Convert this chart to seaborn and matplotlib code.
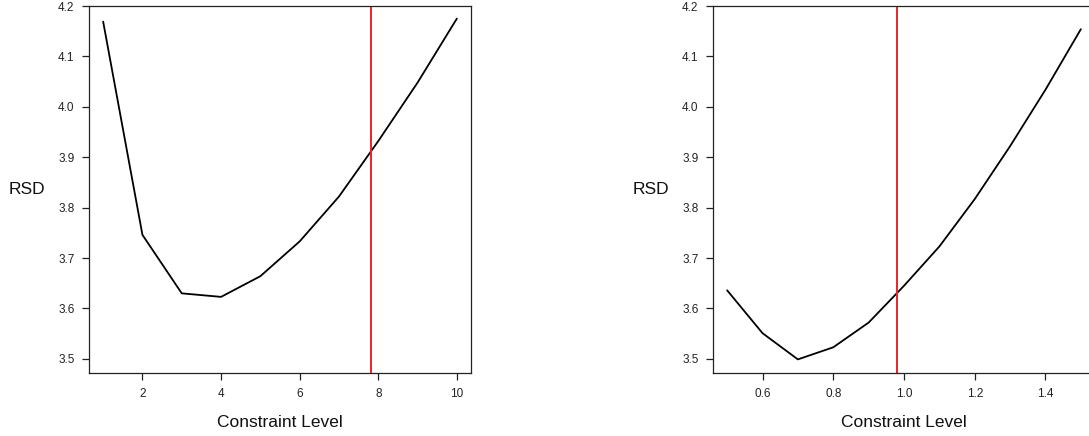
import numpy as np
import pandas as pd
import matplotlib
matplotlib.use("Agg")
import matplotlib.pyplot as plt
import seaborn as sns

# Data
left_x = [1, 2, 3, 4, 5, 6, 7, 8, 9, 10]
left_rsd = [4.169, 3.746, 3.630, 3.623, 3.664, 3.733, 3.822, 3.932, 4.048, 4.175]
left_vline = 7.82

right_x = [0.5, 0.6, 0.7, 0.8, 0.9, 1.0, 1.1, 1.2, 1.3, 1.4, 1.5]
right_rsd = [3.636, 3.551, 3.499, 3.523, 3.572, 3.645, 3.723, 3.817, 3.922, 4.034, 4.154]
right_vline = 0.981

x_label = "Constraint Level"
y_label = "RSD"
left_xticks = [2, 4, 6, 8, 10]
right_xticks = [0.6, 0.8, 1.0, 1.2, 1.4]
yticks = [3.5, 3.6, 3.7, 3.8, 3.9, 4.0, 4.1, 4.2]

sns.set_theme(style="ticks")
plt.rcParams['font.family'] = ['Liberation Sans', 'DejaVu Sans']

fig = plt.figure(figsize=(10.89, 4.36), dpi=100)
W, H = 1089, 436
axL = fig.add_axes([89 / W, 1 - 373 / H, 382 / W, 367 / H])
axR = fig.add_axes([713 / W, 1 - 373 / H, 382 / W, 367 / H])

def draw(ax, xs, ys, vline, xticks, xlim, xfmt):
    df = pd.DataFrame({"x": xs, "y": ys})
    sns.lineplot(data=df, x="x", y="y", ax=ax, color="black", linewidth=1.3)
    ax.axvline(vline, color="#e8252b", linewidth=1.4)
    ax.set_xlim(*xlim)
    ax.set_ylim(3.472, 4.2)
    ax.set_xticks(xticks)
    ax.set_xticklabels([xfmt.format(t) for t in xticks])
    ax.set_yticks(yticks)
    ax.set_yticklabels([f"{t:.1f}" for t in yticks])
    ax.tick_params(axis="both", direction="out", length=5, width=0.9,
                   labelsize=8.5, colors="#222222", pad=5.5)
    for s in ax.spines.values():
        s.set_visible(True)
        s.set_linewidth(0.9)
        s.set_color("#222222")
    ax.set_xlabel(x_label, fontsize=12.5, labelpad=11, color="#111111")
    ax.set_ylabel(y_label, fontsize=12.5, rotation=0, color="#111111",
                  ha="right", va="center")
    ax.yaxis.set_label_coords(-0.114, 0.5)
    ax.grid(False)

draw(axL, left_x, left_rsd, left_vline, left_xticks, (0.64, 10.36), "{:g}")
draw(axR, right_x, right_rsd, right_vline, right_xticks, (0.46, 1.54), "{:.1f}")

fig.savefig("out.png", dpi=100, facecolor="white")
